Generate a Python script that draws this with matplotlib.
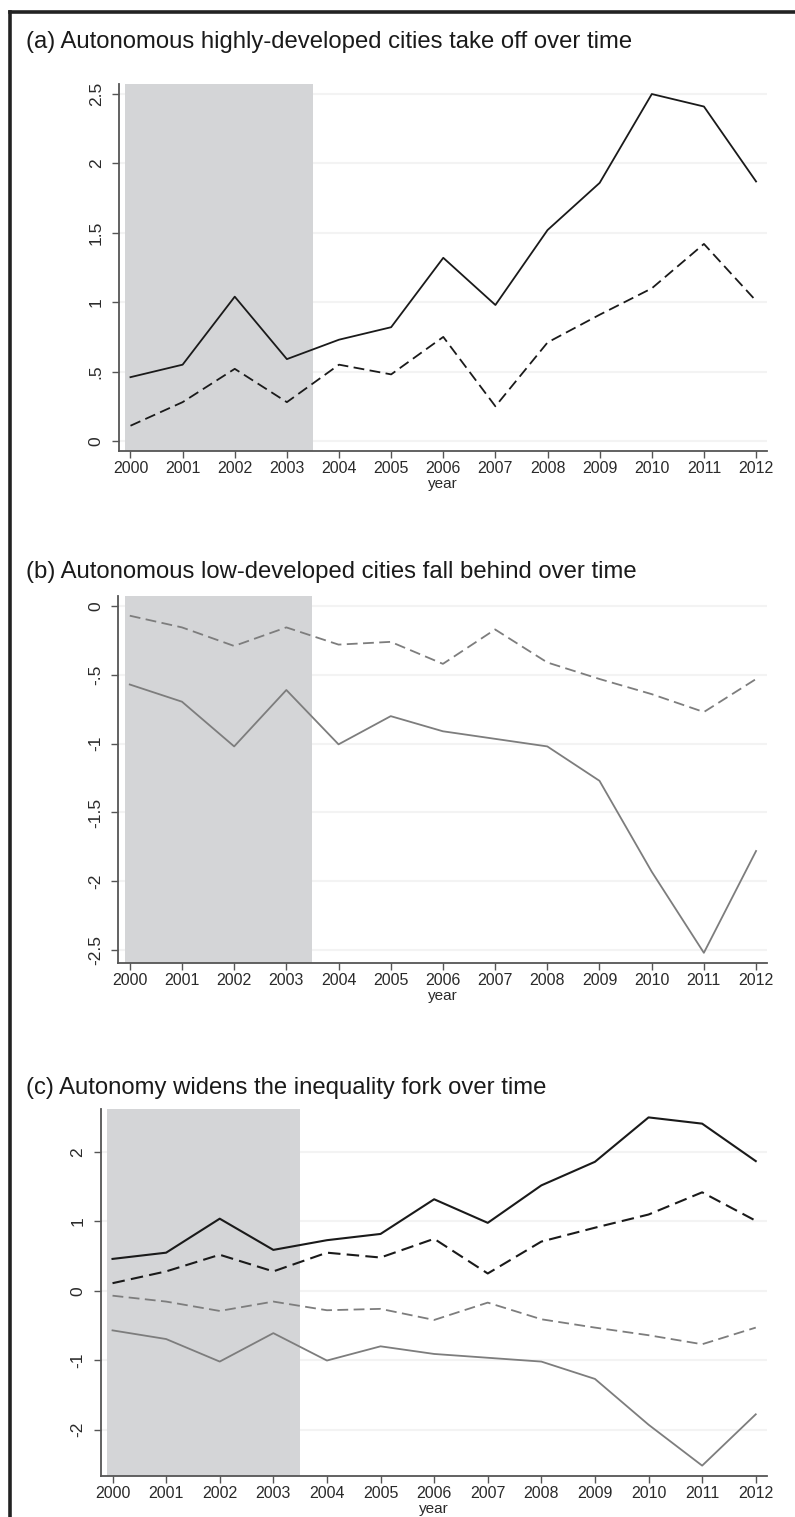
import matplotlib.pyplot as plt
from matplotlib.lines import Line2D

plt.rcParams['font.family'] = ['Liberation Sans', 'DejaVu Sans']

# data
years = list(range(2000, 2013))
high_solid = [0.46, 0.55, 1.04, 0.59, 0.73, 0.82, 1.32, 0.98, 1.52, 1.86, 2.50, 2.41, 1.87]
high_dash = [0.11, 0.28, 0.52, 0.28, 0.55, 0.48, 0.75, 0.25, 0.71, 0.91, 1.10, 1.42, 1.01]
low_solid = [-0.57, -0.695, -1.02, -0.61, -1.005, -0.80, -0.91, -0.965, -1.02, -1.27, -1.93, -2.52, -1.78]
low_dash = [-0.07, -0.155, -0.29, -0.155, -0.28, -0.26, -0.42, -0.17, -0.41, -0.53, -0.64, -0.77, -0.53]

titles = ["(a) Autonomous highly-developed cities take off over time",
          "(b) Autonomous low-developed cities fall behind over time",
          "(c) Autonomy widens the inequality fork over time"]
yticks_a = [0, 0.5, 1, 1.5, 2, 2.5]
ylabels_a = ["0", ".5", "1", "1.5", "2", "2.5"]
yticks_b = [0, -0.5, -1, -1.5, -2, -2.5]
ylabels_b = ["0", "-.5", "-1", "-1.5", "-2", "-2.5"]
yticks_c = [-2, -1, 0, 1, 2]
ylabels_c = ["-2", "-1", "0", "1", "2"]
shade = (1999.9, 2003.5)

BLACK = "#1a1a1a"
GRAY = "#7d7d7d"

fig = plt.figure(figsize=(7.95, 15.17), dpi=100)

def setup(ax, ticks, labels, ylim):
    for t in ticks:
        ax.axhline(t, color="#f3f3f3", lw=1.5, zorder=0)
    ax.axvspan(shade[0], shade[1], color="#d4d5d7", lw=0, zorder=0.5)
    ax.set_xlim(1999.78, 2012.21)
    ax.set_ylim(*ylim)
    ax.set_xticks(years)
    ax.set_xticklabels([str(y) for y in years])
    ax.set_yticks(ticks)
    ax.set_yticklabels(labels, rotation=90, va="center")
    for s in ["top", "right"]:
        ax.spines[s].set_visible(False)
    for s in ["left", "bottom"]:
        ax.spines[s].set_color("#555555")
        ax.spines[s].set_linewidth(1.3)
    ax.tick_params(direction="out", length=5, width=1, color="#555555",
                   labelcolor="#2a2a2a")
    ax.tick_params(axis="x", labelsize=11.5, pad=2)
    ax.tick_params(axis="y", labelsize=12.5, pad=6)
    ax.set_xlabel("year", fontsize=11, color="#2a2a2a", labelpad=1)

# panel a
ax1 = fig.add_axes([0.1497, 0.7027, 0.8151, 0.2419])
setup(ax1, yticks_a, ylabels_a, (-0.072, 2.572))
ax1.plot(years, high_solid, color=BLACK, lw=1.3)
ax1.plot(years, high_dash, color=BLACK, lw=1.3, dashes=(6, 3))

# panel b
ax2 = fig.add_axes([0.1488, 0.3652, 0.816, 0.2419])
setup(ax2, yticks_b, ylabels_b, (-2.594, 0.073))
ax2.plot(years, low_solid, color=GRAY, lw=1.3)
ax2.plot(years, low_dash, color=GRAY, lw=1.3, dashes=(6, 3))

# panel c
ax3 = fig.add_axes([0.1267, 0.0270, 0.8381, 0.2419])
setup(ax3, yticks_c, ylabels_c, (-2.67, 2.62))
ax3.plot(years, high_solid, color=BLACK, lw=1.5)
ax3.plot(years, high_dash, color=BLACK, lw=1.5, dashes=(6, 3))
ax3.plot(years, low_dash, color=GRAY, lw=1.3, dashes=(6, 3))
ax3.plot(years, low_solid, color=GRAY, lw=1.3)

# panel titles
H = 1517.0
for t, ypix in zip(titles, [42, 572, 1088]):
    fig.text(26 / 795, 1 - ypix / H, t, fontsize=17.2, color="#1a1a1a", va="center", ha="left")

# outer frame (cropped on right and bottom)
fig.add_artist(Line2D([10 / 795, 1.0], [1 - 12 / H, 1 - 12 / H], color="#222222", lw=2.6, transform=fig.transFigure))
fig.add_artist(Line2D([10 / 795, 10 / 795], [1 - 12 / H, 0.0], color="#222222", lw=2.6, transform=fig.transFigure))

fig.savefig("out.png", dpi=100)
